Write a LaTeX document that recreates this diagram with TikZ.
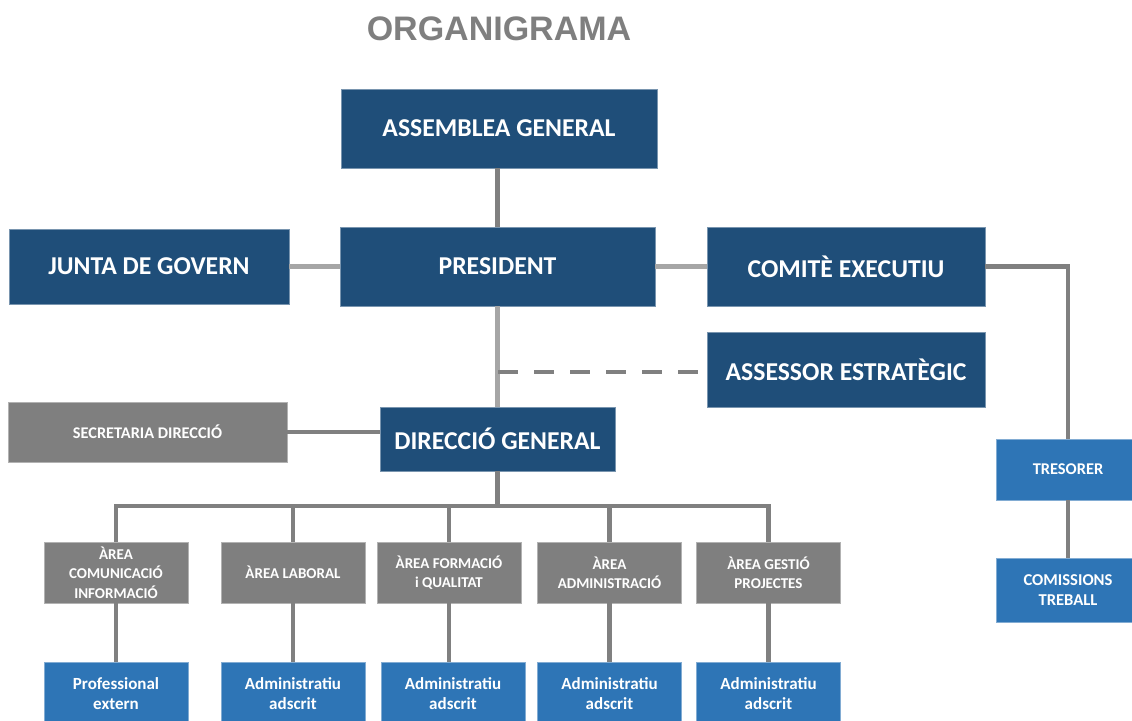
\documentclass[tikz,border=0pt]{standalone}
\usepackage{fontspec}
\setmainfont{Carlito}
\newfontfamily\titlefont{Liberation Sans}
\definecolor{dblue}{HTML}{1F4E79}
\definecolor{mblue}{HTML}{2E75B6}
\definecolor{boxgray}{HTML}{7F7F7F}
\definecolor{lgray}{HTML}{A6A6A6}
\definecolor{dgray}{HTML}{808080}
\definecolor{titlegray}{HTML}{7F7F7F}
\begin{document}
\begin{tikzpicture}[x=1pt,y=-1pt,
  orgbase/.style={rectangle, inner sep=0pt, align=center, text=white, line width=0.8pt},
  orgdark/.style={orgbase, fill=dblue, draw=dblue!60!white, font=\bfseries\fontsize{25.7}{30}\selectfont},
  orggray/.style={orgbase, fill=boxgray, draw=boxgray!60!white, font=\bfseries\fontsize{15}{19.5}\selectfont},
  orgblue/.style={orgbase, fill=mblue, draw=mblue!60!white, font=\bfseries\fontsize{17}{20}\selectfont},
  darkline/.style={draw=dgray, line width=4.5pt},
  lightline/.style={draw=lgray, line width=4.5pt},
]
\useasboundingbox (0,0) rectangle (1132,720);
\clip (0,0) rectangle (1132,720);

\node[font=\titlefont\bfseries\fontsize{34}{40}\selectfont, text=titlegray] (title) at (499,29) {ORGANIGRAMA};

\node[orgdark, minimum width=316pt, minimum height=79pt] (ag) at (499,128.5) {ASSEMBLEA GENERAL};
\node[orgdark, minimum width=280pt, minimum height=75pt] (jg) at (149,266.5) {JUNTA DE GOVERN};
\node[orgdark, minimum width=315pt, minimum height=79pt] (pr) at (497.5,266.5) {PRESIDENT};
\node[orgdark, minimum width=278pt, minimum height=79pt] (ce) at (846,266.5) {COMITÈ EXECUTIU};
\node[orgdark, minimum width=278pt, minimum height=75pt] (as) at (846,369.5) {ASSESSOR ESTRATÈGIC};
\node[orggray, minimum width=279pt, minimum height=60pt, font=\bfseries\fontsize{16.3}{19}\selectfont] (sd) at (147.5,432) {SECRETARIA DIRECCIÓ};
\node[orgdark, minimum width=235pt, minimum height=64pt] (dg) at (497.5,439) {DIRECCIÓ GENERAL};

\node[orgblue, minimum width=144pt, minimum height=61pt, font=\bfseries\fontsize{16.4}{19}\selectfont] (tr) at (1068,469.5) {TRESORER};
\node[orgblue, minimum width=144pt, minimum height=64pt, font=\bfseries\fontsize{16.6}{20.5}\selectfont] (cm) at (1068,590) {COMISSIONS\\TREBALL};

\node[orggray, minimum width=144pt, minimum height=61pt] (a1) at (116,572.5) {ÀREA\\COMUNICACIÓ\\INFORMACIÓ};
\node[orggray, minimum width=144pt, minimum height=61pt] (a2) at (293,572.5) {ÀREA LABORAL};
\node[orggray, minimum width=144pt, minimum height=61pt] (a3) at (449,572.5) {ÀREA FORMACIÓ\\i QUALITAT};
\node[orggray, minimum width=144pt, minimum height=61pt] (a4) at (609.5,572.5) {ÀREA\\ADMINISTRACIÓ};
\node[orggray, minimum width=144pt, minimum height=61pt] (a5) at (768.5,572.5) {ÀREA GESTIÓ\\PROJECTES};

\node[orgblue, minimum width=144pt, minimum height=64pt] (b1) at (116,694) {Professional\\extern};
\node[orgblue, minimum width=144pt, minimum height=64pt] (b2) at (293,694) {Administratiu\\adscrit};
\node[orgblue, minimum width=144pt, minimum height=64pt] (b3) at (453,694) {Administratiu\\adscrit};
\node[orgblue, minimum width=144pt, minimum height=64pt] (b4) at (609.5,694) {Administratiu\\adscrit};
\node[orgblue, minimum width=144pt, minimum height=64pt] (b5) at (768.5,694) {Administratiu\\adscrit};

\coordinate (dstart) at (498,372);
\coordinate (bus) at (498,506);

\draw[darkline] (ag.south -| pr.north) -- (pr.north);
\draw[lightline] (jg.east) -- (pr.west);
\draw[lightline] (pr.east) -- (ce.west);
\draw[darkline] (ce.east) -| (tr.north);
\draw[lightline] (pr.south) -- (dg.north);
\draw[darkline, dash pattern=on 20pt off 16pt] (dstart) -- (dstart -| as.west);
\draw[darkline] (sd.east) -- (sd.east -| dg.west);
\draw[darkline] (dg.south) -- (dg.south |- bus);
\draw[darkline] (a1.north) |- (bus) -| (a5.north);
\draw[darkline] (a2.north) -- (a2.north |- bus);
\draw[darkline] (a3.north) -- (a3.north |- bus);
\draw[darkline] (a4.north) -- (a4.north |- bus);
\draw[darkline] (a1.south) -- (b1.north);
\draw[darkline] (a2.south) -- (b2.north);
\draw[darkline] (a3.south) -- (a3.south |- b3.north);
\draw[darkline] (a4.south) -- (b4.north);
\draw[darkline] (a5.south) -- (b5.north);
\draw[darkline] (tr.south) -- (cm.north);
\end{tikzpicture}
\end{document}
